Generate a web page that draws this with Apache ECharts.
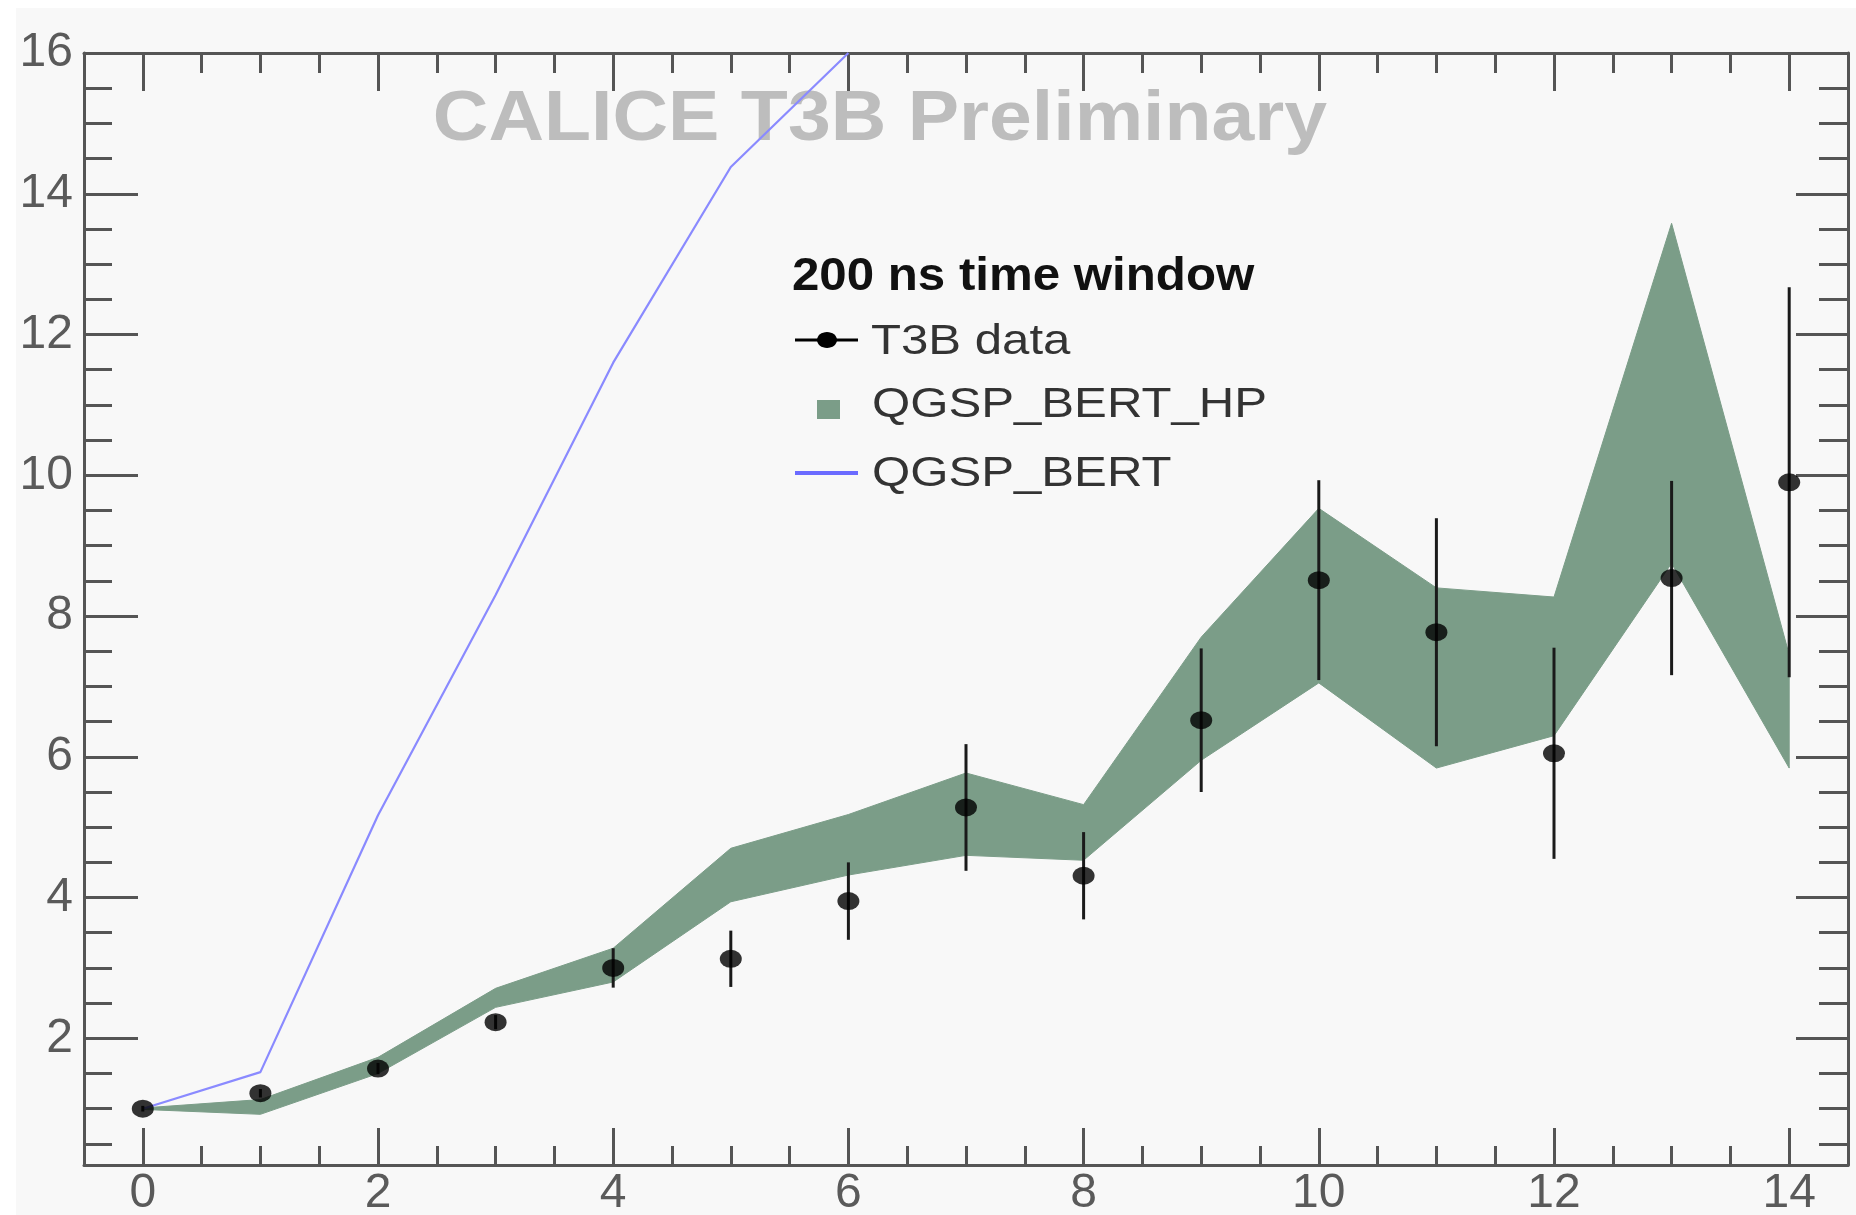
<!DOCTYPE html>
<html>
<head>
<meta charset="utf-8">
<script src="https://cdn.jsdelivr.net/npm/echarts@6/dist/echarts.min.js"></script>
<style>
html, body { margin: 0; padding: 0; background: #ffffff; }
#chart { width: 1856px; height: 1215px; }
</style>
</head>
<body>
<div id="chart"></div>
<script>
// Bin positions shared by all series
const xBins = [0, 1, 2, 3, 4, 5, 6, 7, 8, 9, 10, 11, 12, 13, 14];

// T3B data points with symmetric errors
const t3bValues = [1.00, 1.22, 1.57, 2.23, 3.00, 3.13, 3.95, 5.28, 4.31, 6.52, 8.51, 7.77, 6.05, 8.54, 9.90];
const t3bErrors = [0.04, 0.06, 0.08, 0.10, 0.28, 0.40, 0.55, 0.90, 0.62, 1.02, 1.42, 1.62, 1.50, 1.38, 2.77];

// QGSP_BERT_HP simulation band (upper and lower edge)
const hpUpper = [1.01, 1.13, 1.73, 2.71, 3.28, 4.70, 5.18, 5.77, 5.32, 7.70, 9.53, 8.40, 8.27, 13.58, 7.45];
const hpLower = [0.99, 0.92, 1.50, 2.44, 2.80, 3.94, 4.32, 4.60, 4.53, 5.95, 7.05, 5.84, 6.30, 8.75, 5.84];

// QGSP_BERT simulation line
const bertX = [0, 1, 2, 3, 4, 5, 6];
const bertValues = [1.00, 1.52, 5.17, 8.30, 11.60, 14.38, 16.00];

// Tick positions and labels
const xMajorTicks = [0, 2, 4, 6, 8, 10, 12, 14];
const xMinorTicks = [0.5, 1, 1.5, 2.5, 3, 3.5, 4.5, 5, 5.5, 6.5, 7, 7.5, 8.5, 9, 9.5, 10.5, 11, 11.5, 12.5, 13, 13.5];
const yMajorTicks = [2, 4, 6, 8, 10, 12, 14, 16];
const yMinorTicks = [0.5, 1, 1.5, 2.5, 3, 3.5, 4.5, 5, 5.5, 6.5, 7, 7.5, 8.5, 9, 9.5, 10.5, 11, 11.5, 12.5, 13, 13.5, 14.5, 15, 15.5];

const X_MIN = -0.5, X_MAX = 14.5;
const Y_MIN = 0.2, Y_MAX = 16;

const frameColor = '#555555';
const bandColor = '#7b9d88';
const bertColor = '#8a8aff';
const labelFont = 'Liberation Sans, Arial, sans-serif';

function xAxisDef(position, ticks, tickLen, withLabels, withLine) {
  return {
    type: 'value', position: position, min: X_MIN, max: X_MAX,
    axisLine: { show: withLine, onZero: false, lineStyle: { color: frameColor, width: 3 } },
    axisTick: { show: true, inside: true, length: tickLen, customValues: ticks,
                lineStyle: { color: frameColor, width: 3 } },
    axisLabel: withLabels
      ? { show: true, customValues: ticks, margin: 5, color: '#5a5a5a', fontSize: 48, fontFamily: labelFont }
      : { show: false },
    splitLine: { show: false }
  };
}

function yAxisDef(position, ticks, tickLen, withLabels, withLine) {
  return {
    type: 'value', position: position, min: Y_MIN, max: Y_MAX,
    axisLine: { show: withLine, onZero: false, lineStyle: { color: frameColor, width: 3 } },
    axisTick: { show: true, inside: true, length: tickLen, customValues: ticks,
                lineStyle: { color: frameColor, width: 3 } },
    axisLabel: withLabels
      ? { show: true, customValues: ticks, margin: 11, color: '#5a5a5a', fontSize: 48, fontFamily: labelFont }
      : { show: false },
    splitLine: { show: false }
  };
}

const chart = echarts.init(document.getElementById('chart'), null, { renderer: 'canvas' });

const option = {
  backgroundColor: '#ffffff',
  animation: false,
  grid: { left: 84, right: 8, top: 53, bottom: 50, containLabel: false, outerBoundsMode: 'none' },
  xAxis: [
    xAxisDef('bottom', xMajorTicks, 37, true, true),
    xAxisDef('bottom', xMinorTicks, 19, false, false),
    xAxisDef('top', xMajorTicks, 38, false, true),
    xAxisDef('top', xMinorTicks, 20, false, false)
  ],
  yAxis: [
    yAxisDef('left', yMajorTicks, 54, true, true),
    yAxisDef('left', yMinorTicks, 28, false, false),
    yAxisDef('right', yMajorTicks, 52, false, true),
    yAxisDef('right', yMinorTicks, 29, false, false)
  ],
  graphic: [
    // canvas area inside the thin white border
    { type: 'rect', x: 16, y: 8, z: -10, silent: true,
      shape: { width: 1856 - 16, height: 1215 - 8 }, style: { fill: '#f8f8f8' } },
    // watermark title
    { type: 'text', x: 880, y: 121, scaleX: 1.1, z: 1, silent: true,
      style: { text: 'CALICE T3B Preliminary', fontSize: 70, fontWeight: 'bold', fontFamily: labelFont,
               fill: '#bdbdbd', align: 'center', verticalAlign: 'middle' } },
    // legend header
    { type: 'text', x: 792, y: 277, scaleX: 1.07, z: 1, silent: true,
      style: { text: '200 ns time window', fontSize: 46, fontWeight: 'bold', fontFamily: labelFont,
               fill: '#111111', align: 'left', verticalAlign: 'middle' } },
    // legend: T3B data
    { type: 'line', z: 1, silent: true, shape: { x1: 795, y1: 340, x2: 858, y2: 340 },
      style: { stroke: '#000000', lineWidth: 3 } },
    { type: 'ellipse', z: 1, silent: true, shape: { cx: 827, cy: 340, rx: 10, ry: 8 },
      style: { fill: '#000000' } },
    { type: 'text', x: 871, y: 342, scaleX: 1.17, z: 1, silent: true,
      style: { text: 'T3B data', fontSize: 42, fontFamily: labelFont,
               fill: '#333333', align: 'left', verticalAlign: 'middle' } },
    // legend: QGSP_BERT_HP
    { type: 'rect', z: 1, silent: true, shape: { x: 817, y: 400, width: 23, height: 19 },
      style: { fill: bandColor } },
    { type: 'text', x: 872, y: 405, scaleX: 1.17, z: 1, silent: true,
      style: { text: 'QGSP_BERT_HP', fontSize: 42, fontFamily: labelFont,
               fill: '#333333', align: 'left', verticalAlign: 'middle' } },
    // legend: QGSP_BERT
    { type: 'line', z: 1, silent: true, shape: { x1: 795, y1: 473, x2: 858, y2: 473 },
      style: { stroke: '#6b6bff', lineWidth: 4 } },
    { type: 'text', x: 872, y: 474, scaleX: 1.17, z: 1, silent: true,
      style: { text: 'QGSP_BERT', fontSize: 42, fontFamily: labelFont,
               fill: '#333333', align: 'left', verticalAlign: 'middle' } }
  ],
  series: [
    {
      // filled band between the lower and upper edge, drawn as one polygon
      name: 'QGSP_BERT_HP', type: 'custom', silent: true, clip: true,
      encode: { x: 0, y: [1, 2] },
      data: xBins.map((x, i) => [x, hpLower[i], hpUpper[i]]),
      renderItem: function (params, api) {
        if (params.dataIndex !== 0) return null;
        const pts = [];
        for (let j = 0; j < xBins.length; j++) pts.push(api.coord([xBins[j], hpUpper[j]]));
        for (let j = xBins.length - 1; j >= 0; j--) pts.push(api.coord([xBins[j], hpLower[j]]));
        return {
          type: 'polygon',
          shape: { points: pts },
          style: { fill: bandColor, stroke: bandColor, lineWidth: 1 }
        };
      },
      z: 2
    },
    {
      name: 'QGSP_BERT', type: 'line', symbol: 'none', clip: true,
      lineStyle: { color: bertColor, width: 2.2 },
      data: bertX.map((x, i) => [x, bertValues[i]]),
      z: 3
    },
    {
      name: 'T3B data errors', type: 'custom', silent: true, clip: true,
      encode: { x: 0, y: [1, 2] },
      data: xBins.map((x, i) => [x, t3bValues[i] - t3bErrors[i], t3bValues[i] + t3bErrors[i]]),
      renderItem: function (params, api) {
        const lo = api.coord([api.value(0), api.value(1)]);
        const hi = api.coord([api.value(0), api.value(2)]);
        return {
          type: 'line',
          shape: { x1: lo[0], y1: lo[1], x2: hi[0], y2: hi[1] },
          style: { stroke: '#1a1a1a', lineWidth: 3 }
        };
      },
      z: 4
    },
    {
      name: 'T3B data', type: 'scatter', symbol: 'circle', symbolSize: [22, 18],
      itemStyle: { color: '#000000' },
      data: xBins.map((x, i) => [x, t3bValues[i]]),
      z: 5
    }
  ]
};

chart.setOption(option);
</script>
</body>
</html>
